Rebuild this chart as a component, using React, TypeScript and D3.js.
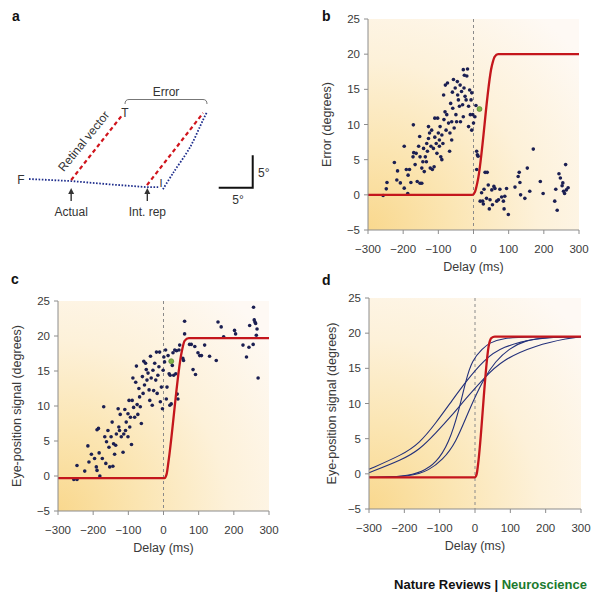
import React from 'react';
import * as d3 from 'd3';

// axes shared by b, c, d
const delayTicks = [-300, -200, -100, 0, 100, 200, 300];
const degreeTicks = [-5, 0, 5, 10, 15, 20, 25];

// panel b: error vs delay
const bDelay = [
  -257, -248, -246, -225, -216, -218, -208, -197, -197, -191, -187, -186, -182, -178, -172, -171, -170, -166,
  -163, -160, -156, -153, -152, -152, -147, -147, -144, -142, -140, -137, -134, -133, -131, -128, -128, -125,
  -123, -121, -119, -117, -114, -112, -110, -106, -104, -102, -100, -97, -97, -95, -93, -90, -90, -87, -85,
  -84, -81, -78, -76, -74, -71, -68, -67, -65, -62, -62, -59, -57, -55, -52, -50, -48, -46, -43, -40, -38,
  -37, -34, -31, -29, -29, -27, -24, -21, -19, -17, -14, -14, -11, -9, -7, -5, -5, -2, 0, 4, 7, 9, 11, 13, 9,
  -26, -80, -60, -45, -110,
  19, 23, 26, 28, 30, 33, 37, 39, 42, 45, 47, 52, 54, 58, 61, 66, 71, 75, 80, 85, 87, 89, 94, 99, 118, 127,
  130, 132, 134, 146, 153, 160, 170, 190, 198, 231, 234, 238, 243, 247, 252, 254, 256, 262, 264, 269, 259,
];
const bError = [
  -0.1, 0.85, 1.75, 4.6, 3.4, 2.1, 1.7, 6.9, 0.95, 3.6, 0.2, 2.8, 3.6, 1.75, 5.4, 9.95, 6.0, 4.3,
  5.9, 1.9, 6.9, 8.3, 5.4, 1.65, 1.65, 3.8, 4.7, 6.6, 3.3, 5.4, 4.7, 7.3, 6.2, 8.0, 9.7, 8.8,
  3.8, 6.9, 9.2, 3.6, 6.6, 4.0, 10.9, 7.3, 5.9, 10.9, 8.8, 6.9, 7.8, 9.7, 5.4, 5.0, 8.5, 7.3, 14.2,
  10.7, 11.8, 9.2, 11.4, 15.9, 10.2, 6.2, 8.8, 13.0, 10.4, 7.8, 12.3, 16.4, 9.5, 15.2, 11.4, 10.4, 16.1, 13.5, 12.6, 15.6,
  10.4, 14.7, 12.8, 17.8, 11.1, 15.2, 14.0, 13.5, 16.9, 17.9, 12.6, 9.7, 14.9, 11.4, 13.5, 14.5, 9.2, 11.4, 10.2, 11.1, 12.7, 6.2, 5.7, 5.5, 3.6,
  17.0, 15.6, 14.6, 14.2, 8.2,
  -0.9, 0.3, -0.9, -1.3, 0.8, 3.2, -0.5, 3.2, 1.4, -2.0, -0.7, 0.7, -1.4, 1.2, 0.9, -0.9, -0.7, 0.8, -0.3, -0.9, -2.0, -0.2, 0.9, -2.8, 1.1, 2.6,
  3.2, 1.75, 0, -0.5, 3.8, 0.5, 6.5, 1.9, 0.2, -0.9, 0.8, -2.2, 3.0, 2.4, 1.3, 1.7, 0.5, 4.3, 0.7, 1.0, 0.2,
];
const bGreen = [17, 12.2];
const bModelDelay = [-300, -3, 4, 12, 52, 60, 70, 300];
const bModelError = [0, 0, 0.4, 2.0, 18.3, 19.6, 20, 20];

// panel c: eye-position signal vs delay
const cDelay = [
  -255, -246, -246, -224, -215, -212, -205, -196, -191, -189, -189, -185, -183, -181, -174, -170, -167, -164,
  -162, -158, -155, -153, -149, -146, -144, -142, -139, -136, -134, -129, -127, -125, -123, -120, -115, -113,
  -110, -108, -106, -101, -101, -98, -96, -94, -91, -89, -87, -85, -82, -79, -77, -75, -73, -70, -68, -66,
  -63, -60, -58, -56, -54, -51, -49, -47, -44, -41, -39, -37, -35, -32, -30, -28, -25, -22, -20, -18, -16,
  -13, -11, -9, -6, -3, -1, 1, 3, 6, 8, 10, 13, 16, 18, 19, 22, 25, 27, 29, 32, 35, 37, 39, 41, 44, 46,
  55, 57, 60, 60, 74, 79, 84, 89, 91, 98, 103, 108, 117, 131, 150, 155, 164, 171, 202, 205, 226, 236, 243,
  245, 255, 256, 258, 260, 262, 264, 266, 269,
];
const cSignal = [
  -0.5, -0.5, 1.5, 0.7, 4.3, 2.0, 3.1, 2.5, 1.3, 0.8, 6.6, 6.8, 3.3, 0, 2.5, 9.9, 5.6, 1.8,
  4.9, 6.5, 4.1, 1.3, 5.6, 7.7, 1.4, 4.6, 3.1, 4.4, 6.0, 9.6, 7.0, 6.5, 8.8, 5.6, 3.4, 6.0,
  9.5, 6.5, 7.7, 8.9, 5.6, 10.8, 7.0, 8.4, 4.5, 10.8, 14.0, 9.8, 8.4, 13.4, 15.7, 10.2, 8.8, 12.5, 11.3, 9.9,
  7.5, 14.2, 11.8, 16.4, 13.0, 16.1, 15.2, 13.7, 14.7, 12.3, 10.8, 17.1, 14.0, 10.1, 15.1, 12.2, 16.1, 13.7, 17.7, 11.8, 14.4,
  15.6, 17.7, 10.6, 12.7, 9.6, 15.1, 17.0, 16.3, 18.0, 11.0, 12.7, 17.2, 14.6, 10.1, 14.4, 10.3, 15.8, 17.6, 14.4, 18.0, 14.6, 17.9, 11.7, 11.0, 18.0, 18.7,
  16.8, 16.5, 22.1, 20.3, 18.8, 18.8, 15.2, 18.5, 14.5, 17.6, 17.2, 17.2, 18.7, 17.1, 16.5, 22.0, 21.3, 19.9, 20.8, 20.3, 18.7, 17.0, 18.4,
  21.5, 18.8, 24.1, 22.3, 22.0, 21.8, 20.1, 21.0, 14.0,
];
const cGreen = [22, 16.4];
const cModelDelay = [-300, 3, 9, 14, 52, 60, 72, 300];
const cModelSignal = [-0.3, -0.3, 0.3, 2.0, 17.8, 19.3, 19.7, 19.7];

// panel d: model curves
const dRedDelay = [-300, 0, 5, 9, 40, 46, 56, 300];
const dRedSignal = [-0.5, -0.5, 0, 1.5, 18.5, 19.3, 19.5, 19.5];
const dCurve1Delay = [-300, -200, -149, -111, -74, -45, -26, -8, 21, 40, 77, 150, 300];
const dCurve1Signal = [-0.5, -0.4, 0.3, 1.5, 4.3, 9.1, 13.3, 16.2, 17.8, 18.6, 19.3, 19.5, 19.5];
const dCurve2Delay = [-300, -180, -130, -92, -55, -17, 25, 58, 96, 143, 200, 300];
const dCurve2Signal = [-0.5, -0.4, 0.5, 2.0, 4.3, 9.1, 13.6, 16.0, 17.8, 19.0, 19.4, 19.5];
const dCurve3Delay = [-300, -206, -158, -111, -64, -26, 25, 77, 172, 266, 300];
const dCurve3Signal = [0.64, 2.7, 4.3, 7.2, 10.5, 13.1, 16.2, 18.1, 19.3, 19.5, 19.5];
const dCurve4Delay = [-300, -206, -158, -111, -64, -26, 25, 77, 172, 266, 300];
const dCurve4Signal = [0.16, 2.0, 3.4, 5.8, 8.4, 10.7, 13.6, 16.2, 18.3, 19.3, 19.5];

// panel a: schematic, in degrees of visual angle
const fixPathX = [0, 6.2, 12, 17.4, 19.0];
const fixPathY = [0, -0.3, -0.8, -1.2, -1.2];
const intPathX = [19.7, 21.2, 23.7, 25.6, 26.2];
const intPathY = [-1.5, 0.9, 4.7, 8.7, 9.9];
const retinalX = [6.2, 13.7];
const retinalY = [-0.15, 9.4];
const shiftedX = [17.35, 25.6];
const shiftedY = [-0.9, 9.7];
const scaleBarX = [27.9, 32.9, 32.9];
const scaleBarY = [-1.3, -1.3, 3.5];

const FONT = "'Liberation Sans', Arial, Helvetica, sans-serif";
const RED = '#c4161c';
const NAVY = '#1b1f52';
const AXIS = '#8c8c8c';
const TXT = '#3a3a3a';

const zip = (xs: number[], ys: number[]) => xs.map((v, i) => [v, ys[i]] as [number, number]);
const fmt = (v: number) => (v < 0 ? '\u2212' + Math.abs(v) : String(v));

function Panel({ left, right, top, bottom, yLabel, yLabelX, children }: any) {
  const x = d3.scaleLinear().domain([-300, 300]).range([left, right]);
  const y = d3.scaleLinear().domain([-5, 25]).range([bottom, top]);
  const mid = (top + bottom) / 2;
  return (
    <g>
      <rect x={left} y={top} width={right - left} height={bottom - top} fill="url(#warm)" />
      <line x1={x(0)} x2={x(0)} y1={top} y2={bottom} stroke="#8a8a8a" strokeDasharray="3,3" strokeWidth={1} />
      {children(x, y)}
      <line x1={left} x2={left} y1={top} y2={bottom} stroke={AXIS} />
      <line x1={left} x2={right} y1={bottom} y2={bottom} stroke={AXIS} />
      {degreeTicks.map((t) => (
        <g key={'y' + t}>
          <line x1={left - 4} x2={left} y1={y(t)} y2={y(t)} stroke={AXIS} />
          <text x={left - 8} y={y(t)} dy="0.36em" textAnchor="end" fontSize={11.5} fill={TXT}>
            {fmt(t)}
          </text>
        </g>
      ))}
      {delayTicks.map((t) => (
        <g key={'x' + t}>
          <line x1={x(t)} x2={x(t)} y1={bottom} y2={bottom + 4} stroke={AXIS} />
          <text x={x(t)} y={bottom + 23} textAnchor="middle" fontSize={11.5} fill={TXT}>
            {fmt(t)}
          </text>
        </g>
      ))}
      <text x={(left + right) / 2} y={bottom + 41} textAnchor="middle" fontSize={12.5} fill={TXT}>
        Delay (ms)
      </text>
      <text
        transform={`translate(${yLabelX},${mid}) rotate(-90)`}
        textAnchor="middle"
        dy="0.35em"
        fontSize={12.5}
        fill={TXT}
      >
        {yLabel}
      </text>
    </g>
  );
}

function Dots({ x, y, xs, ys }: any) {
  return (
    <g>
      {xs.map((v: number, i: number) => (
        <circle key={i} cx={x(v)} cy={y(ys[i])} r={1.8} fill={NAVY} />
      ))}
    </g>
  );
}

function Green({ x, y, p }: any) {
  return <circle cx={x(p[0])} cy={y(p[1])} r={2.5} fill="#7db247" stroke="#4f7d2a" strokeWidth={0.6} />;
}

export default function App() {
  const ax = d3.scaleLinear().domain([0, 10]).range([29, 97]);
  const ay = d3.scaleLinear().domain([0, 10]).range([179, 111]);
  const lineA = d3.line<[number, number]>().x((d) => ax(d[0])).y((d) => ay(d[1]));
  const curveA = d3
    .line<[number, number]>()
    .x((d) => ax(d[0]))
    .y((d) => ay(d[1]))
    .curve(d3.curveCatmullRom);

  const smooth = (x: any, y: any) =>
    d3
      .line<[number, number]>()
      .x((d) => x(d[0]))
      .y((d) => y(d[1]))
      .curve(d3.curveMonotoneX);
  const soft = (x: any, y: any) =>
    d3
      .line<[number, number]>()
      .x((d) => x(d[0]))
      .y((d) => y(d[1]))
      .curve(d3.curveBasis);

  const arrow = (px: number) => (
    <g>
      <line x1={px} x2={px} y1={201} y2={193} stroke="#333" strokeWidth={1.4} />
      <path d={`M${px - 3},${194} L${px},${188} L${px + 3},${194} Z`} fill="#333" />
    </g>
  );

  return (
    <svg
      width={600}
      height={598}
      style={{ position: 'absolute', left: 0, top: 0, background: '#fff' }}
      fontFamily={FONT}
    >
      <defs>
        <radialGradient id="warm" cx="0" cy="1" r="1.3" fx="0" fy="1">
          <stop offset="0" stopColor="#f9d88e" />
          <stop offset="0.3" stopColor="#fbe5b2" />
          <stop offset="0.62" stopColor="#fdf1d9" />
          <stop offset="1" stopColor="#fef9f4" />
        </radialGradient>
      </defs>

      {/* panel labels */}
      <g fontWeight="bold" fontSize={14} fill="#111">
        <text x={12} y={21}>a</text>
        <text x={322} y={21}>b</text>
        <text x={11} y={284}>c</text>
        <text x={322} y={285}>d</text>
      </g>

      {/* a: schematic */}
      <g fontSize={12} fill="#333">
        <path
          d={lineA(zip(fixPathX, fixPathY)) || ''}
          fill="none"
          stroke="#1e2d8c"
          strokeWidth={1.8}
          strokeDasharray="1.6,1.6"
        />
        <path
          d={curveA(zip(intPathX, intPathY)) || ''}
          fill="none"
          stroke="#1e2d8c"
          strokeWidth={1.8}
          strokeDasharray="1.6,1.6"
        />
        <path d={lineA(zip(retinalX, retinalY)) || ''} stroke="#d0141c" strokeWidth={2.2} strokeDasharray="4,3" />
        <path d={lineA(zip(shiftedX, shiftedY)) || ''} stroke="#d0141c" strokeWidth={2.2} strokeDasharray="4,3" />
        <path d={lineA(zip(scaleBarX, scaleBarY)) || ''} fill="none" stroke="#111" strokeWidth={2} />
        <path d="M125,104 Q125,99.5 129,99.5 L203,99.5 Q207,99.5 207,104" fill="none" stroke="#777" strokeWidth={1} />
        <text x={166} y={96} textAnchor="middle">Error</text>
        <text x={125} y={117} textAnchor="middle">T</text>
        <text x={21} y={184} textAnchor="middle">F</text>
        <text x={161} y={187} textAnchor="middle" fontSize={11}>I</text>
        <text transform="translate(86,143) rotate(-51)" textAnchor="middle" dy="0.1em">Retinal vector</text>
        {arrow(ax(6.2))}
        {arrow(ax(17.4))}
        <text x={ax(6.2)} y={216} textAnchor="middle">Actual</text>
        <text x={ax(17.4)} y={216} textAnchor="middle">Int. rep</text>
        <text x={258} y={177}>5°</text>
        <text x={238} y={204} textAnchor="middle">5°</text>
      </g>

      {/* b */}
      <Panel left={368} right={579} top={19} bottom={230} yLabel="Error (degrees)" yLabelX={327}>
        {(x: any, y: any) => (
          <g>
            <Dots x={x} y={y} xs={bDelay} ys={bError} />
            <path d={smooth(x, y)(zip(bModelDelay, bModelError)) || ''} fill="none" stroke={RED} strokeWidth={2.3} />
            <Green x={x} y={y} p={bGreen} />
          </g>
        )}
      </Panel>

      {/* c */}
      <Panel left={58} right={269} top={301} bottom={511} yLabel="Eye-position signal (degrees)" yLabelX={17}>
        {(x: any, y: any) => (
          <g>
            <Dots x={x} y={y} xs={cDelay} ys={cSignal} />
            <path d={smooth(x, y)(zip(cModelDelay, cModelSignal)) || ''} fill="none" stroke={RED} strokeWidth={2.3} />
            <Green x={x} y={y} p={cGreen} />
          </g>
        )}
      </Panel>

      {/* d */}
      <Panel left={369} right={581} top={298} bottom={509} yLabel="Eye-position signal (degrees)" yLabelX={332}>
        {(x: any, y: any) => (
          <g fill="none">
            {[
              [dCurve1Delay, dCurve1Signal],
              [dCurve2Delay, dCurve2Signal],
              [dCurve3Delay, dCurve3Signal],
              [dCurve4Delay, dCurve4Signal],
            ].map((c, i) => (
              <path key={i} d={soft(x, y)(zip(c[0], c[1])) || ''} stroke="#23307a" strokeWidth={1.1} />
            ))}
            <path d={smooth(x, y)(zip(dRedDelay, dRedSignal)) || ''} stroke={RED} strokeWidth={2.3} />
          </g>
        )}
      </Panel>

      {/* footer */}
      <text x={587} y={589} textAnchor="end" fontSize={13} fontWeight="bold" fill="#111">
        Nature Reviews | <tspan fill="#1b7a2e">Neuroscience</tspan>
      </text>
    </svg>
  );
}
